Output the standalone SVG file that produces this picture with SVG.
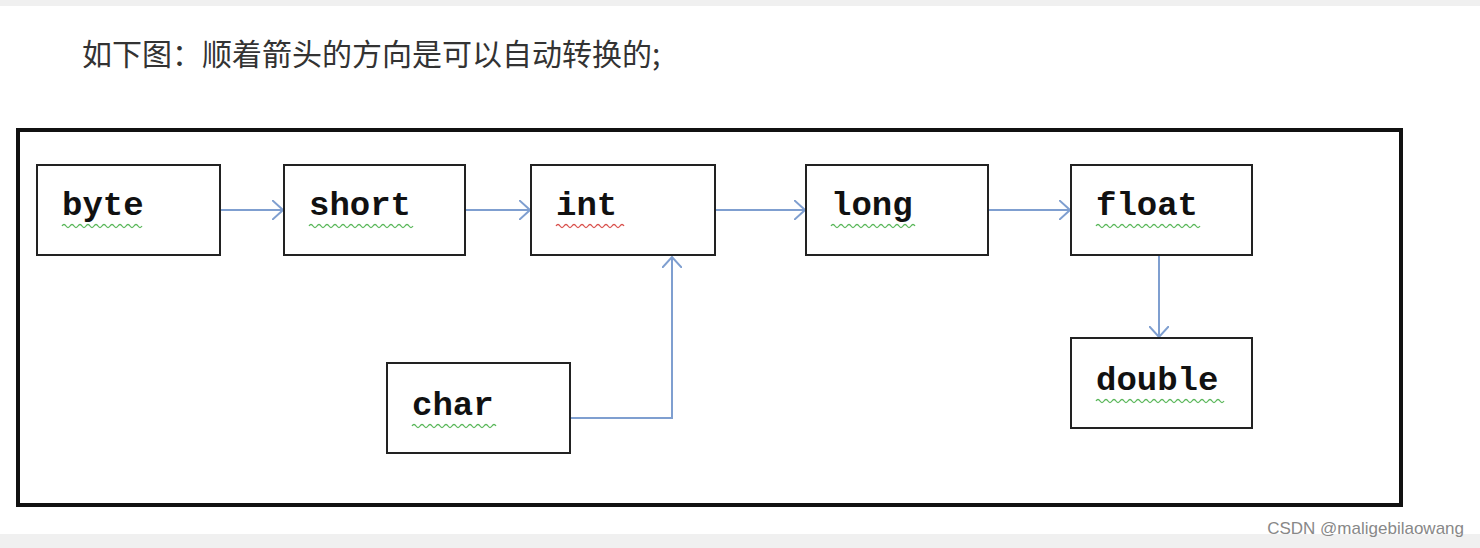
<svg xmlns="http://www.w3.org/2000/svg" width="1480" height="548" viewBox="0 0 1480 548">
<defs>
<style>
.box{fill:#fff;stroke:#222;stroke-width:2}
.lbl{font-family:"Liberation Mono","DejaVu Sans Mono",monospace;font-weight:bold;font-size:34px;fill:#111}
.con{fill:none;stroke:#7f9fd0;stroke-width:2}
.wg{fill:none;stroke:#5cb85c;stroke-width:1.3}
.wr{fill:none;stroke:#d9534f;stroke-width:1.3}
</style>
<marker id="ah" viewBox="0 0 12 20" refX="11" refY="10" markerWidth="12" markerHeight="20" markerUnits="userSpaceOnUse" orient="auto">
<path d="M0,0 L11,10 L0,20" fill="none" stroke="#7f9fd0" stroke-width="2"/>
</marker>
</defs>
<rect width="1480" height="548" fill="#fff"/>
<rect x="0" y="0" width="1480" height="6" fill="#f0f0f0"/>
<rect x="0" y="534" width="1480" height="14" fill="#f0f0f0"/>
<text x="82" y="65" font-family="'Noto Sans CJK SC',sans-serif" font-size="30" fill="#333">如下图：顺着箭头的方向是可以自动转换的;</text>
<rect x="18" y="130" width="1383" height="375" fill="none" stroke="#111" stroke-width="4"/>
<g id="connectors">
<path class="con" d="M220,210 H283" marker-end="url(#ah)"/>
<path class="con" d="M465,210 H530" marker-end="url(#ah)"/>
<path class="con" d="M715,210 H805" marker-end="url(#ah)"/>
<path class="con" d="M988,210 H1070" marker-end="url(#ah)"/>
<path class="con" d="M1159,256 V337" marker-end="url(#ah)"/>
<path class="con" d="M570,418 H672 V257" marker-end="url(#ah)"/>
</g>
<g id="byte"><rect class="box" x="37" y="165" width="183" height="90"/><text class="lbl" x="62" y="215">byte</text><path class="wg" d="M62,226 q2,-3 4,0 t4,0 t4,0 t4,0 t4,0 t4,0 t4,0 t4,0 t4,0 t4,0 t4,0 t4,0 t4,0 t4,0 t4,0 t4,0 t4,0 t4,0 t4,0 t4,0"/></g>
<g id="short"><rect class="box" x="284" y="165" width="181" height="90"/><text class="lbl" x="309" y="215">short</text><path class="wg" d="M309,226 q2,-3 4,0 t4,0 t4,0 t4,0 t4,0 t4,0 t4,0 t4,0 t4,0 t4,0 t4,0 t4,0 t4,0 t4,0 t4,0 t4,0 t4,0 t4,0 t4,0 t4,0 t4,0 t4,0 t4,0 t4,0 t4,0 t4,0"/></g>
<g id="int"><rect class="box" x="531" y="165" width="184" height="90"/><text class="lbl" x="556" y="215">int</text><path class="wr" d="M556,226 q2,-3 4,0 t4,0 t4,0 t4,0 t4,0 t4,0 t4,0 t4,0 t4,0 t4,0 t4,0 t4,0 t4,0 t4,0 t4,0 t4,0 t4,0"/></g>
<g id="long"><rect class="box" x="806" y="165" width="182" height="90"/><text class="lbl" x="831" y="215">long</text><path class="wg" d="M831,226 q2,-3 4,0 t4,0 t4,0 t4,0 t4,0 t4,0 t4,0 t4,0 t4,0 t4,0 t4,0 t4,0 t4,0 t4,0 t4,0 t4,0 t4,0 t4,0 t4,0 t4,0 t4,0"/></g>
<g id="float"><rect class="box" x="1071" y="165" width="181" height="90"/><text class="lbl" x="1096" y="215">float</text><path class="wg" d="M1096,226 q2,-3 4,0 t4,0 t4,0 t4,0 t4,0 t4,0 t4,0 t4,0 t4,0 t4,0 t4,0 t4,0 t4,0 t4,0 t4,0 t4,0 t4,0 t4,0 t4,0 t4,0 t4,0 t4,0 t4,0 t4,0 t4,0 t4,0"/></g>
<g id="double"><rect class="box" x="1071" y="338" width="181" height="90"/><text class="lbl" x="1096" y="390">double</text><path class="wg" d="M1096,401 q2,-3 4,0 t4,0 t4,0 t4,0 t4,0 t4,0 t4,0 t4,0 t4,0 t4,0 t4,0 t4,0 t4,0 t4,0 t4,0 t4,0 t4,0 t4,0 t4,0 t4,0 t4,0 t4,0 t4,0 t4,0 t4,0 t4,0 t4,0 t4,0 t4,0 t4,0 t4,0 t4,0"/></g>
<g id="char"><rect class="box" x="387" y="363" width="183" height="90"/><text class="lbl" x="412" y="415">char</text><path class="wg" d="M412,426 q2,-3 4,0 t4,0 t4,0 t4,0 t4,0 t4,0 t4,0 t4,0 t4,0 t4,0 t4,0 t4,0 t4,0 t4,0 t4,0 t4,0 t4,0 t4,0 t4,0 t4,0 t4,0"/></g>
<text x="1464" y="534" text-anchor="end" font-family="'Liberation Sans',sans-serif" font-size="17" fill="#888">CSDN @maligebilaowang</text>
</svg>
